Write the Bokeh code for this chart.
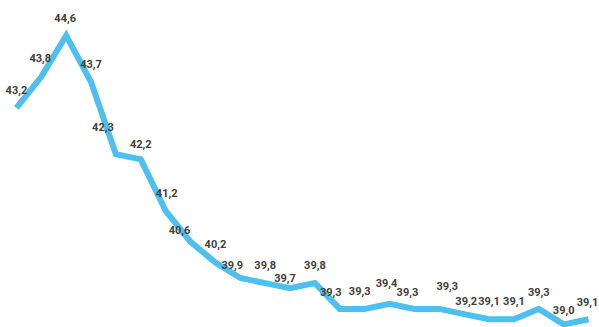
from bokeh.plotting import figure
from bokeh.models import ColumnDataSource, Range1d
from bokeh.core.properties import value
from bokeh.embed import file_html
from bokeh.resources import INLINE

# Series values, one per period
periods = list(range(24))
values = [43.2, 43.8, 44.6, 43.7, 42.3, 42.2, 41.2, 40.6, 40.2, 39.9, 39.8, 39.7,
          39.8, 39.3, 39.3, 39.4, 39.3, 39.3, 39.2, 39.1, 39.1, 39.3, 39.0, 39.1]
labels = [f"{v:.1f}".replace(".", ",") for v in values]

# Per-label nudges in screen pixels (dx right, dy up) to keep labels clear of the line
label_dx = [0, -1, -1, 0, -13, 0, 1, -11, 0, -8, 0, -5,
            0, -9, -5, -3, -7, 8, 2, 0, 0, 0, 0, -1]
label_dy = [18, 19, 18, 18, 27, 15, 18, 12, 19, 13, 18, 10,
            18, 17, 18, 21, 17, 23, 13, 18, 18, 17, 14, 17]

src = ColumnDataSource(dict(
    x=periods, y=values, text=labels,
    xo=label_dx, yo=[-d for d in label_dy],
))

p = figure(width=599, height=327, output_backend="svg", toolbar_location=None,
           x_range=Range1d(-0.64, 23.44), y_range=Range1d(38.94, 45.28),
           min_border=0, outline_line_color=None)
p.axis.visible = False
p.grid.visible = False
p.background_fill_color = "white"
p.border_fill_color = "white"

p.line("x", "y", source=src, line_color="#4EC0F0", line_width=6,
       line_join="miter", line_cap="butt")

p.text("x", "y", text="text", source=src, x_offset="xo", y_offset="yo",
       text_align="center", text_baseline="middle",
       text_font=value("Roboto"),
       text_font_style="bold", text_font_size="11px", text_color="#404040")

open("out.html", "w").write(file_html(p, INLINE))
